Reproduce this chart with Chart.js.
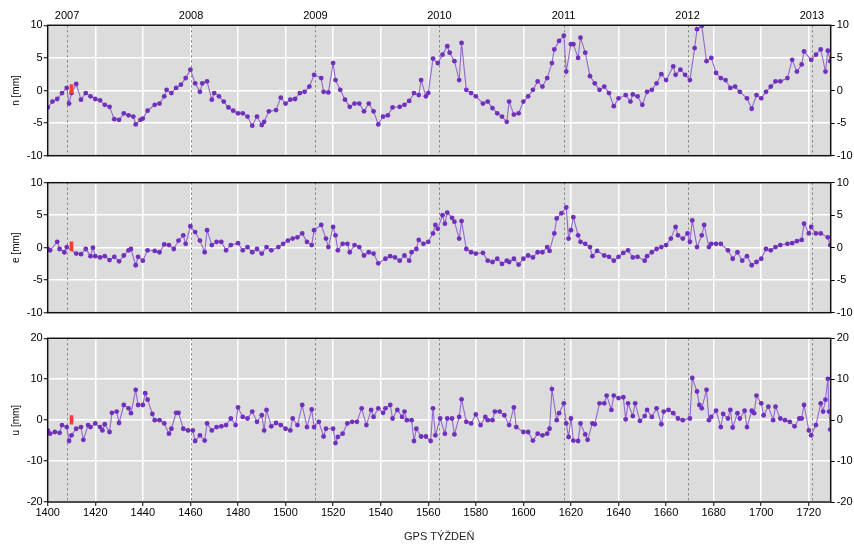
<!DOCTYPE html>
<html><head><meta charset="utf-8">
<script src="https://cdn.jsdelivr.net/npm/chart.js@4.4.0/dist/chart.umd.min.js"></script>
<style>
html,body{margin:0;padding:0;background:#fff;}
#wrap{position:relative;width:854px;height:544px;overflow:hidden;background:#fff;}
canvas{position:absolute;left:0;top:0;}
</style></head><body>
<div id="wrap">
<canvas id="cN" width="854" height="544"></canvas>
<canvas id="cE" width="854" height="544"></canvas>
<canvas id="cU" width="854" height="544"></canvas>
</div>
<script>
// ---- data ----
const xTickValues = [1400,1420,1440,1460,1480,1500,1520,1540,1560,1580,1600,1620,1640,1660,1680,1700,1720];
const yearWeeks = [1408.14,1460.29,1512.57,1564.71,1616.86,1669.0,1721.29];
const yearLabels = ['2007','2008','2009','2010','2011','2012','2013'];
const ticksNE = [-10,-5,0,5,10];
const ticksU = [-20,-10,0,10,20];
const markerWeek = 1410;
const markerN = [-0.4,0.9];
const markerE = [-0.5,0.9];
const markerU = [-1.0,1.1];

const weeksN = [1400,1402,1404,1406,1408,1409,1410,1412,1414,1416,1418,1420,1422,1424,1426,1428,1430,1432,1434,1436,1437,1439,1440,1442,1445,1447,1449,1450,1452,1454,1456,1458,1460,1462,1464,1465,1467,1469,1470,1472,1474,1476,1478,1480,1482,1484,1486,1488,1490,1491,1493,1496,1498,1500,1502,1504,1506,1508,1510,1512,1515,1516,1518,1520,1521,1523,1525,1527,1529,1531,1533,1535,1537,1539,1541,1543,1545,1548,1550,1552,1554,1556,1557,1559,1560,1562,1564,1566,1568,1569,1571,1573,1574,1576,1578,1580,1583,1585,1587,1589,1591,1593,1594,1596,1598,1600,1602,1604,1606,1608,1610,1612,1613,1615,1617,1618,1620,1621,1623,1624,1626,1628,1630,1632,1634,1636,1638,1640,1643,1645,1646,1648,1650,1652,1654,1656,1658,1660,1663,1664,1666,1668,1670,1672,1673,1675,1677,1679,1681,1683,1685,1687,1689,1691,1694,1696,1698,1700,1702,1704,1706,1708,1711,1713,1715,1717,1718,1721,1723,1725,1727,1728,1729];
const valsN = [-2.6,-1.7,-1.3,-0.4,0.4,-2.0,-0.4,1.0,-1.4,-0.4,-0.9,-1.3,-1.5,-2.2,-2.5,-4.4,-4.5,-3.5,-3.8,-4.0,-5.2,-4.5,-4.3,-3.1,-2.2,-2.0,-0.9,0.1,-0.4,0.4,0.9,1.9,3.2,1.1,-0.2,1.1,1.4,-1.4,-0.4,-0.9,-1.7,-2.6,-3.1,-3.5,-3.5,-4.0,-5.4,-4.0,-5.3,-4.8,-3.2,-3.0,-1.1,-2.0,-1.4,-1.3,-0.4,-0.2,0.6,2.4,1.9,-0.2,-0.3,4.2,1.6,0.1,-1.4,-2.5,-2.0,-2.0,-3.2,-2.0,-3.2,-5.2,-4.0,-3.8,-2.6,-2.5,-2.2,-1.6,-0.4,-0.7,1.6,-0.9,-0.4,4.9,4.2,5.5,6.8,5.8,4.5,1.6,7.3,0.1,-0.4,-0.9,-2.0,-1.7,-2.7,-3.5,-4.0,-4.8,-1.7,-3.7,-3.5,-1.7,-0.9,0.1,1.4,0.6,1.9,4.2,6.3,7.6,8.4,2.9,7.1,7.1,5.0,8.1,5.8,2.2,1.1,0.1,0.6,-0.4,-2.4,-1.2,-0.7,-1.7,-0.6,-0.9,-2.2,-0.2,0.1,1.1,2.5,1.6,3.7,2.4,3.2,2.4,1.6,6.5,9.4,9.9,4.5,5.0,2.7,1.9,1.6,0.4,0.6,-0.2,-1.2,-2.8,-0.7,-1.2,-0.2,0.6,1.4,1.4,1.9,4.7,2.9,4.0,6.0,4.7,5.5,6.3,2.9,6.1,4.5];

const weeksE = [1400,1401,1404,1405,1407,1408,1412,1414,1416,1418,1419,1420,1422,1424,1426,1428,1430,1432,1434,1435,1437,1438,1440,1442,1445,1447,1449,1451,1453,1455,1457,1458,1460,1462,1464,1466,1467,1469,1471,1473,1475,1477,1480,1482,1484,1486,1488,1490,1492,1494,1497,1499,1501,1503,1505,1507,1509,1511,1512,1515,1517,1518,1520,1521,1522,1524,1526,1527,1529,1531,1533,1535,1537,1539,1542,1544,1546,1548,1550,1552,1553,1555,1556,1558,1560,1562,1563,1564,1566,1567,1568,1570,1571,1573,1574,1576,1578,1580,1583,1585,1587,1589,1591,1593,1594,1596,1598,1600,1602,1604,1606,1608,1610,1611,1613,1614,1616,1618,1619,1620,1621,1623,1624,1626,1628,1629,1631,1634,1636,1638,1640,1642,1644,1646,1648,1651,1652,1654,1656,1658,1660,1662,1664,1665,1667,1669,1670,1671,1673,1675,1676,1678,1679,1681,1683,1686,1688,1690,1692,1694,1696,1698,1700,1702,1704,1706,1708,1711,1713,1715,1717,1718,1720,1721,1723,1725,1728,1729];
const valsE = [-0.2,-0.4,0.9,-0.2,-0.7,0.1,-0.9,-1.0,-0.2,-1.3,0.0,-1.3,-1.5,-1.3,-1.9,-1.4,-2.1,-1.2,-0.4,-0.2,-2.7,-1.4,-2.0,-0.4,-0.5,-0.7,0.5,0.4,-0.2,1.1,1.9,0.6,3.3,2.4,1.1,-0.7,2.7,0.4,0.9,0.9,-0.4,0.4,0.7,-0.4,0.1,-0.7,-0.2,-0.9,0.1,-0.4,0.1,0.6,1.1,1.4,1.6,2.2,0.9,0.4,2.7,3.5,1.4,0.1,3.2,1.9,-0.4,0.6,0.6,-0.7,0.4,0.1,-1.2,-0.7,-0.9,-2.4,-1.7,-1.3,-1.5,-2.0,-1.2,-2.0,-0.7,-0.2,1.2,0.6,0.9,2.2,3.5,2.9,5.0,3.7,5.4,4.6,4.0,1.4,4.1,-0.2,-0.7,-0.9,-0.8,-2.0,-2.2,-1.7,-2.5,-2.0,-2.2,-1.7,-2.6,-1.7,-1.2,-1.5,-0.7,-0.7,0.1,-0.5,2.2,4.5,5.3,6.2,1.4,2.7,4.7,1.9,0.9,0.6,0.1,-1.3,-0.5,-1.2,-1.4,-2.0,-1.4,-0.8,-0.4,-1.5,-1.4,-2.0,-1.3,-0.7,-0.2,0.1,0.4,1.4,3.2,1.9,1.4,2.2,0.9,4.2,0.1,1.9,3.5,0.1,0.6,0.6,0.6,-0.4,-1.7,-0.7,-2.0,-1.3,-2.7,-2.2,-1.7,-0.2,-0.4,0.1,0.4,0.6,0.7,1.0,1.2,3.7,2.2,3.2,2.2,2.2,1.6,0.4];

const weeksU = [1400,1401,1403,1405,1406,1408,1409,1410,1412,1414,1415,1417,1418,1420,1422,1423,1424,1426,1427,1429,1430,1432,1434,1435,1437,1438,1440,1441,1442,1444,1445,1447,1449,1451,1452,1454,1455,1457,1459,1461,1462,1464,1466,1467,1469,1471,1473,1475,1477,1479,1480,1482,1484,1486,1488,1490,1491,1492,1494,1496,1498,1500,1502,1503,1505,1507,1509,1511,1512,1514,1516,1517,1520,1521,1522,1524,1526,1528,1530,1532,1534,1536,1537,1539,1541,1542,1544,1545,1547,1549,1550,1551,1553,1554,1555,1557,1559,1561,1562,1563,1565,1567,1568,1570,1571,1573,1574,1576,1578,1580,1582,1584,1585,1587,1588,1590,1592,1594,1596,1597,1600,1602,1604,1606,1608,1610,1611,1612,1614,1615,1617,1618,1619,1620,1621,1623,1624,1626,1627,1629,1630,1632,1634,1635,1637,1638,1640,1642,1643,1644,1646,1647,1649,1651,1652,1654,1656,1658,1659,1661,1663,1665,1667,1670,1671,1673,1674,1675,1677,1678,1679,1681,1683,1684,1686,1687,1688,1690,1691,1693,1694,1696,1697,1698,1700,1701,1703,1705,1706,1708,1710,1712,1714,1716,1717,1718,1720,1721,1723,1725,1726,1727,1728,1728.5,1729];
const valsU = [-2.5,-3.3,-2.9,-3.1,-1.2,-1.7,-5.1,-3.7,-2.1,-1.7,-4.8,-1.2,-1.7,-0.8,-1.7,-2.5,-1.0,-2.9,1.8,2.1,-0.7,3.7,2.9,1.7,7.4,3.7,3.7,6.6,5.0,1.5,0.0,0.0,-0.8,-3.3,-2.1,1.8,1.8,-2.1,-2.5,-2.5,-5.1,-3.7,-5.0,-0.8,-2.5,-1.7,-1.5,-1.2,0.4,-1.2,3.1,0.8,0.4,2.1,-0.4,1.2,-2.5,2.5,-1.5,-0.7,-1.2,-2.1,-2.5,0.4,-1.2,3.7,-1.7,2.6,-1.7,-0.4,-4.0,-2.1,-2.1,-5.6,-4.1,-3.3,-0.8,-0.4,-0.4,2.9,-1.2,2.5,0.8,2.9,1.8,2.9,3.7,0.4,2.5,0.8,2.1,0.0,0.0,-5.1,-2.1,-4.0,-4.0,-5.1,2.9,-3.7,0.4,-3.3,0.4,0.4,-3.5,0.8,5.1,-0.4,-0.8,1.4,-1.2,0.8,0.0,0.0,2.1,2.1,1.2,-1.2,3.1,-1.7,-2.9,-2.9,-5.0,-3.3,-3.7,-3.3,-2.1,7.6,0.0,1.7,4.1,-0.8,-4.1,0.4,-5.0,-5.1,-0.8,-3.5,-4.8,-0.8,-1.0,4.1,4.1,6.0,2.5,6.0,5.4,5.6,0.2,4.1,1.0,4.1,-0.2,1.0,2.5,0.8,2.9,-1.0,2.1,2.5,1.7,0.4,0.0,0.4,10.3,7.0,3.7,2.9,7.4,0.0,0.8,2.3,-1.7,1.5,0.4,2.5,-1.8,1.7,0.4,2.3,-1.7,2.3,1.7,6.0,4.1,1.2,3.3,0.0,3.3,0.4,0.0,-0.4,-1.5,0.4,0.4,3.7,-2.5,-3.7,-1.2,4.1,2.1,5.0,10.1,2.1,-2.3];

// ---- style ----
const xMin = 1400, xMax = 1729.2;
const narrow = "'Liberation Sans Narrow', 'Liberation Sans', Arial, sans-serif";
const regular = "'Liberation Sans', Arial, sans-serif";
const lineColor = '#9466d0';
const pointColor = '#7030bc';

const panelPlugin = {
  id: 'panel',
  beforeDraw(chart) {
    const {ctx, chartArea: a} = chart;
    ctx.save();
    ctx.fillStyle = '#dcdcdc';
    ctx.fillRect(a.left, a.top, a.right - a.left, a.bottom - a.top);
    ctx.restore();
  },
  beforeDatasetsDraw(chart) {
    const {ctx, chartArea: a} = chart;
    const xs = chart.scales.x;
    ctx.save();
    ctx.setLineDash([2, 3]);
    ctx.strokeStyle = '#7a7a7a';
    ctx.lineWidth = 1;
    yearWeeks.forEach(w => {
      const px = Math.round(xs.getPixelForValue(w)) + 0.5;
      ctx.beginPath(); ctx.moveTo(px, a.top); ctx.lineTo(px, a.bottom); ctx.stroke();
    });
    ctx.restore();
  },
  afterDraw(chart) {
    const {ctx, chartArea: a} = chart;
    ctx.save();
    ctx.strokeStyle = '#111';
    ctx.lineWidth = 1.5;
    ctx.strokeRect(a.left, a.top, a.right - a.left, a.bottom - a.top);
    ctx.restore();
  }
};

function makePanel(id, weeks, vals, marker, yTicks, yTitle, cfg) {
  const scales = {
    x: {
      type: 'linear', position: 'bottom', min: xMin, max: xMax, offset: false,
      afterBuildTicks: a => { a.ticks = xTickValues.map(v => ({value: v})); },
      afterFit: s => { s.height = cfg.xHeight; },
      grid: {color: '#ffffff', lineWidth: 1.5, drawTicks: cfg.xLabels, tickLength: 4, tickColor: '#000', tickWidth: 1, offset: false},
      border: {display: false},
      ticks: {display: cfg.xLabels, color: '#000', font: {family: narrow, size: 11}, padding: 0, maxRotation: 0, autoSkip: false, callback: v => String(v)},
      title: {display: cfg.xLabels, text: 'GPS TÝŽDEŇ', color: '#222', font: {family: narrow, size: 11}, padding: {top: 0, bottom: 0}}
    },
    y: {
      type: 'linear', position: 'left', min: yTicks[0], max: yTicks[yTicks.length - 1],
      afterBuildTicks: a => { a.ticks = yTicks.map(v => ({value: v})); },
      afterFit: s => { s.width = 47.7; },
      grid: {color: '#ffffff', lineWidth: 1.5, tickLength: 4, tickColor: '#000', tickWidth: 1},
      border: {display: false},
      ticks: {color: '#000', font: {family: regular, size: 11}, padding: 1, callback: v => String(v)},
      title: {display: true, text: yTitle, color: '#000', font: {family: regular, size: 10}, padding: {top: 10, bottom: 0}}
    },
    y2: {
      type: 'linear', position: 'right', min: yTicks[0], max: yTicks[yTicks.length - 1],
      afterBuildTicks: a => { a.ticks = yTicks.map(v => ({value: v})); },
      afterFit: s => { s.width = 854 - 830.7; },
      grid: {drawOnChartArea: false, color: 'rgba(0,0,0,0)', tickLength: 4, tickColor: '#000', tickWidth: 1},
      border: {display: false},
      ticks: {color: '#000', font: {family: regular, size: 11}, padding: 2, callback: v => String(v)}
    }
  };
  if (cfg.years) {
    scales.x2 = {
      type: 'linear', position: 'top', min: xMin, max: xMax, offset: false,
      afterBuildTicks: a => { a.ticks = yearWeeks.map(v => ({value: v})); },
      afterFit: s => { s.height = 25.3; },
      grid: {display: false, drawTicks: false, tickLength: 0},
      border: {display: false},
      ticks: {color: '#000', font: {family: narrow, size: 11}, padding: 3, maxRotation: 0, autoSkip: false,
        callback: (v, i) => yearLabels[i]}
    };
  }
  return new Chart(document.getElementById(id), {
    type: 'line',
    data: {
      datasets: [
        {
          type: 'bar', order: 0, xAxisID: 'x', yAxisID: 'y',
          data: [{x: markerWeek, y: marker}],
          backgroundColor: '#ff3b30', borderWidth: 0, barThickness: 3, grouped: false
        },
        {
          type: 'line', order: 1, xAxisID: 'x', yAxisID: 'y',
          data: weeks.map((w, i) => ({x: w, y: vals[i]})),
          borderColor: lineColor, borderWidth: 1.1, tension: 0,
          pointRadius: 2.4, pointBackgroundColor: pointColor, pointBorderWidth: 0,
          pointHoverRadius: 0
        }
      ]
    },
    options: {
      responsive: false, animation: false, devicePixelRatio: 1,
      layout: {padding: {top: cfg.padTop, bottom: cfg.padBottom, left: 0, right: 0}},
      plugins: {legend: {display: false}, tooltip: {enabled: false}, title: {display: false}},
      events: [],
      scales: scales
    },
    plugins: [panelPlugin]
  });
}

makePanel('cN', weeksN, valsN, markerN, ticksNE, 'n [mm]',
  {years: true, xLabels: false, xHeight: 4, padTop: 0, padBottom: 544 - 155.7 - 4});
makePanel('cE', weeksE, valsE, markerE, ticksNE, 'e [mm]',
  {years: false, xLabels: false, xHeight: 4, padTop: 182.7, padBottom: 544 - 312.7 - 4});
makePanel('cU', weeksU, valsU, markerU, ticksU, 'u [mm]',
  {years: false, xLabels: true, xHeight: 42, padTop: 338.3, padBottom: 0});
</script>
</body></html>
